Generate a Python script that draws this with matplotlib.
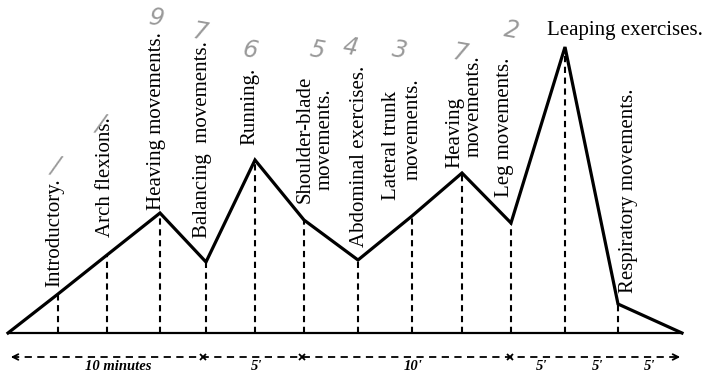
import matplotlib
matplotlib.use("Agg")
import matplotlib.pyplot as plt

# lesson curve: position along the lesson (arbitrary units) and intensity
pos = [8, 58, 107, 160, 206, 255, 304, 358, 412, 462, 511, 565, 618, 682]
effort = [0, 39, 78, 120, 71, 173, 113, 73, 117, 160, 110, 286, 29, 0]

# exercise labels: (text lines, x of each line, bottom of each line)
labels = [
    (["Introductory."], [55], [46]),
    (["Arch flexions."], [106], [96]),
    (["Heaving movements."], [157], [123]),
    (["Balancing  movements."], [202], [95]),
    (["Running."], [250], [188]),
    (["Shoulder-blade", "movements."], [305, 325], [130, 143]),
    (["Abdominal exercises."], [360], [86]),
    (["Lateral trunk", "movements."], [391, 413], [133, 153]),
    (["Heaving", "movements."], [455, 474], [165, 176]),
    (["Leg movements."], [505], [136]),
    (["Respiratory movements."], [628], [40]),
]
top_label = "Leaping exercises."

# handwritten pencil marks on the scan
marks = ["/", "/", "9", "7", "6", "5", "4", "3", "7", "2"]
mark_x = [55, 100, 157, 200, 250, 317, 350, 400, 460, 512]
mark_y = [168, 210, 315, 301, 283, 283, 286, 283, 280, 303]

# time scale under the chart
span_edges = [8, 203, 302, 510, 683]
span_text = ["10 minutes", "5'", "10'", "5'", "5'", "5'"]
span_text_x = [118, 257, 413, 542, 598, 650]

fig = plt.figure(figsize=(7.03, 3.73), dpi=100)
ax = fig.add_axes([0, 0, 1, 1])
ax.set_xlim(0, 703)
ax.set_ylim(-40, 333)
ax.axis("off")

serif = "Liberation Serif"

ax.plot([pos[0], pos[-1]], [0, 0], color="black", lw=1.6, solid_capstyle="butt")
for x, y in zip(pos[1:-1], effort[1:-1]):
    ax.plot([x, x], [0, y], color="black", lw=1.5, dashes=(3, 2.2))
ax.plot(pos, effort, color="black", lw=2.3, solid_joinstyle="miter")

for lines, xs, ys in labels:
    for t, x, y in zip(lines, xs, ys):
        ax.text(x, y, t, rotation=90, ha="center", va="bottom",
                fontsize=15, family=serif)
ax.text(625, 302, top_label, ha="center", va="center", fontsize=15, family=serif)

for t, x, y in zip(marks, mark_x, mark_y):
    ax.text(x, y, t, ha="center", va="center", fontsize=17, color="#999999",
            style="italic", family="DejaVu Sans", weight="light", rotation=-10)

yb = -24
ax.plot([span_edges[0] + 4, span_edges[-1] - 4], [yb, yb], color="black",
        lw=1.3, dashes=(4, 3))
ax.annotate("", xy=(span_edges[0], yb), xytext=(span_edges[0] + 10, yb),
            arrowprops=dict(arrowstyle="->", lw=1.3, color="black"))
ax.annotate("", xy=(span_edges[-1], yb), xytext=(span_edges[-1] - 10, yb),
            arrowprops=dict(arrowstyle="->", lw=1.3, color="black"))
ax.plot(span_edges[1:-1], [yb] * 3, ls="none", marker="x", ms=4, mew=1.3,
        color="black")
for t, x in zip(span_text, span_text_x):
    ax.text(x, yb - 10, t, ha="center", va="center", fontsize=10.5,
            style="italic", weight="bold", family=serif)

fig.savefig("out.png", dpi=100)
